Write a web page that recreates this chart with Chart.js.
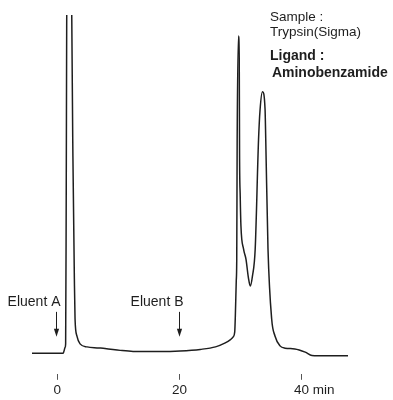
<!DOCTYPE html>
<html>
<head>
<meta charset="utf-8">
<script src="https://cdn.jsdelivr.net/npm/chart.js@4/dist/chart.umd.min.js"></script>
<style>
  html, body { margin: 0; padding: 0; background: #fff; }
</style>
</head>
<body>
<canvas id="chart" width="393" height="400"></canvas>
<script>
// Elution time (min) and detector signal (mAU) of the trace
const time = [
  -4.15, 0.95, 1.1, 1.27, 1.36, 1.45, 1.53, 1.7, 1.95, 2.2,
  2.36, 2.55, 2.79, 2.9, 3.2, 3.72, 4.87, 6.5, 7.8, 10.3,
  12.4, 16.8, 20.1, 23.4, 25.9, 27.5, 28.3, 28.8, 29.05, 29.15,
  29.3, 29.38, 29.45, 29.67, 29.79, 29.84, 29.95, 30.07, 30.5, 30.89,
  31.3, 31.6, 31.95, 32.4, 32.95, 33.2, 33.6, 34.02, 34.13, 34.5,
  35.1, 35.64, 36.46, 37.3, 38.9, 40.6, 41.7, 43.9, 47.6
];
const signal = [
  2.5, 2.5, 5, 8.5, 12, 150, 330, 600, 720, 560,
  342, 200, 77, 37, 20, 12, 9, 8, 7.5, 5.5,
  4.5, 4.5, 5, 6.5, 9, 13, 16, 19, 24, 40,
  75, 97, 217, 321, 297, 204, 160, 130, 107, 97,
  78, 70, 80, 107, 217, 247, 265, 247, 217, 107,
  37, 20, 10, 7.7, 7, 3.7, 0.3, 0, 0
];
const tickValues = [0, 20, 40];
const eluentTimes = [-0.3, 20];
const eluentNames = ["Eluent A", "Eluent B"];
const sampleLines = ["Sample :", "Trypsin(Sigma)"];
const ligandLines = ["Ligand :", " Aminobenzamide"];

const family = '"Liberation Sans", Arial, Helvetica, sans-serif';
const ink = "#1e1e1e";

// arrows, eluent names, time unit and the sample box
const notes = {
  id: "notes",
  afterDraw(chart) {
    const ctx = chart.ctx;
    const x = chart.scales.x;
    const y = chart.scales.y;
    const base = y.getPixelForValue(0);
    ctx.save();
    ctx.fillStyle = ink;
    ctx.strokeStyle = ink;
    ctx.lineWidth = 1;
    ctx.font = "14px " + family;

    eluentTimes.forEach((t, i) => {
      const px = Math.round(x.getPixelForValue(t)) + 0.5;
      ctx.textAlign = "right";
      ctx.textBaseline = "alphabetic";
      ctx.fillText(eluentNames[i], px + 4, base - 50);
      ctx.beginPath();
      ctx.moveTo(px, base - 44);
      ctx.lineTo(px, base - 26);
      ctx.stroke();
      ctx.beginPath();
      ctx.moveTo(px - 2.6, base - 27);
      ctx.lineTo(px + 2.6, base - 27);
      ctx.lineTo(px, base - 19);
      ctx.closePath();
      ctx.fill();
    });

    // unit after the last tick label
    ctx.font = "13.5px " + family;
    const p40 = x.getPixelForValue(40);
    const lineH = 13.5 * 1.2;
    ctx.textAlign = "left";
    ctx.textBaseline = "middle";
    ctx.fillText("min", p40 + ctx.measureText("40").width / 2 + ctx.measureText(" ").width,
      x.top + 6 + 2 + lineH / 2);

    ctx.textBaseline = "alphabetic";
    ctx.fillText(sampleLines[0], 270, 20.5);
    ctx.fillText(sampleLines[1], 270, 36);
    ctx.font = "bold 14px " + family;
    ctx.fillText(ligandLines[0], 270, 60);
    ctx.fillText(ligandLines[1], 268, 77);
    ctx.restore();
  }
};

new Chart(document.getElementById("chart"), {
  type: "line",
  data: {
    datasets: [{
      data: time.map((t, i) => ({ x: t, y: signal[i] })),
      borderColor: ink,
      borderWidth: 1.5,
      pointRadius: 0,
      fill: false,
      cubicInterpolationMode: "monotone",
      clip: 0
    }]
  },
  options: {
    responsive: false,
    devicePixelRatio: 1,
    animation: false,
    layout: { padding: { left: 32, right: 45, top: 15, bottom: 0 } },
    plugins: { legend: { display: false }, tooltip: { enabled: false } },
    scales: {
      x: {
        type: "linear",
        min: -4.15,
        max: 47.6,
        afterBuildTicks: (axis) => { axis.ticks = tickValues.map(v => ({ value: v })); },
        grid: { drawOnChartArea: false, drawTicks: true, tickLength: 6, color: "#555", lineWidth: 1 },
        border: { display: false },
        ticks: { color: ink, font: { family: family, size: 13.5 }, padding: 2, maxRotation: 0, autoSkip: false }
      },
      y: { display: false, min: -18, max: 342 }
    }
  },
  plugins: [notes]
});
</script>
</body>
</html>
